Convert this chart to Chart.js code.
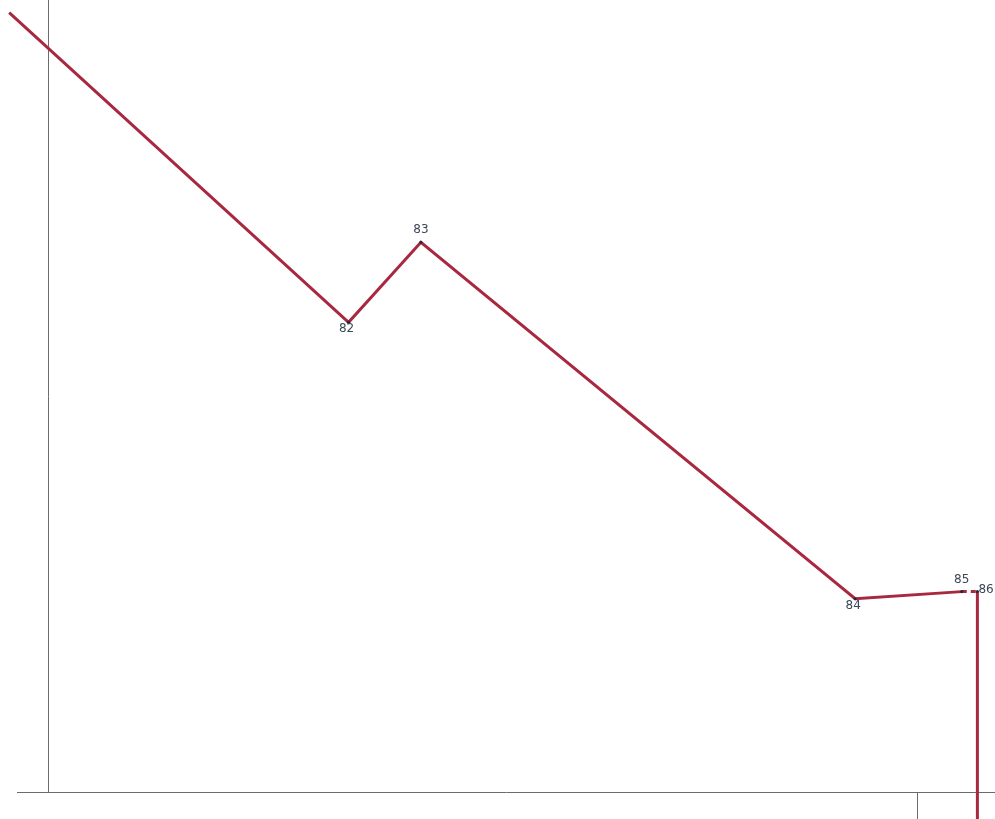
<!DOCTYPE html>
<html>
<head>
<meta charset="utf-8">
<script src="https://cdn.jsdelivr.net/npm/chart.js@4"></script>
<style>
  html, body { margin: 0; padding: 0; background: #fff; }
  #wrap { width: 995px; height: 819px; position: relative; }
</style>
</head>
<body>
<div id="wrap"><canvas id="lineChart"></canvas></div>
<script>
// values (arbitrary units, 0..100 on both axes)
const pointLabels = ["", "82", "83", "84", "85", "86", ""];
const xValues = [-0.8, 33.9, 41.3, 85.7, 96.6, 98.2, 98.2];
const yValues = [98.4, 59.3, 69.4, 24.4, 25.3, 25.3, -4.8];
const xTickValues = [92.1];
const yAxisAt = 3.2;

const labelPlacement = ["", "below", "above", "below", "above", "right", ""];

// little plugin: writes the numbers next to the points
const pointLabelPlugin = {
  id: "pointLabels",
  afterDatasetsDraw(chart) {
    const ctx = chart.ctx;
    const meta = chart.getDatasetMeta(0);
    ctx.save();
    ctx.font = "12px 'DejaVu Sans', sans-serif";
    ctx.fillStyle = "#3b4658";
    meta.data.forEach((pt, i) => {
      const txt = pointLabels[i];
      if (!txt) return;
      const where = labelPlacement[i];
      ctx.textAlign = "center";
      ctx.textBaseline = "middle";
      let x = pt.x, y = pt.y;
      if (where === "above") y -= 12;
      if (where === "below") { y += 7; x -= 2; }
      if (where === "right") { ctx.textAlign = "left"; x += 1; y -= 2; }
      ctx.fillText(txt, x, y);
    });
    ctx.restore();
  }
};

const points = xValues.map((x, i) => ({ x, y: yValues[i] }));

new Chart(document.getElementById("lineChart"), {
  type: "scatter",
  data: {
    datasets: [{
      data: points,
      showLine: true,
      clip: false,
      borderColor: "#a8283f",
      borderWidth: 3,
      pointRadius: pointLabels.map(l => (l ? 1.6 : 0)),
      pointBackgroundColor: "#1f2a3a",
      pointBorderWidth: 0,
      segment: {
        borderDash: (c) => (c.p0DataIndex === 4 ? [5, 4] : undefined)
      }
    }]
  },
  options: {
    responsive: true,
    maintainAspectRatio: false,
    animation: false,
    layout: { padding: { left: 17, right: 0, top: 0, bottom: 0 } },
    plugins: {
      legend: { display: false },
      tooltip: { enabled: false }
    },
    scales: {
      x: {
        type: "linear",
        min: 0,
        max: 100,
        afterBuildTicks: (scale) => {
          scale.ticks = xTickValues.map(v => ({ value: v }));
        },
        ticks: { display: false },
        grid: {
          drawOnChartArea: false,
          drawTicks: true,
          tickLength: 27,
          color: "#6b6b6b",
          lineWidth: 1
        },
        border: { display: true, color: "#6b6b6b", width: 1 }
      },
      y: {
        type: "linear",
        min: 0,
        max: 100,
        position: { x: yAxisAt },
        ticks: { display: false },
        grid: { drawOnChartArea: false, drawTicks: false },
        border: { display: true, color: "#6b6b6b", width: 1 }
      }
    }
  },
  plugins: [pointLabelPlugin]
});
</script>
</body>
</html>
